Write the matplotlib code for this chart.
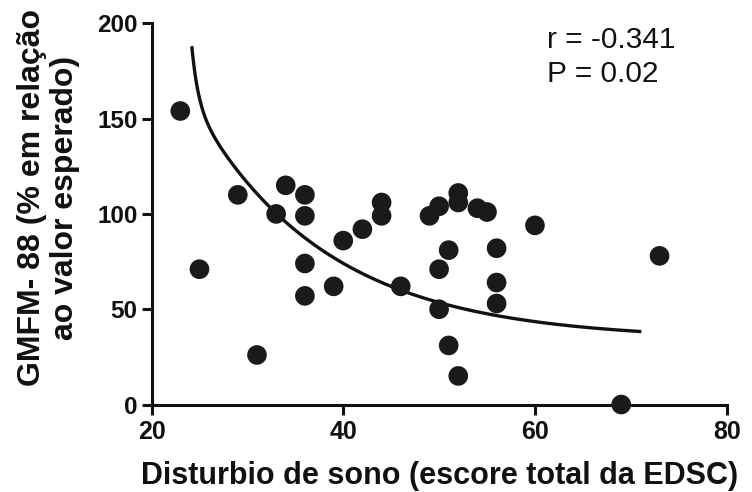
import numpy as np
import matplotlib
matplotlib.use("Agg")
import matplotlib.pyplot as plt

plt.rcParams['font.family'] = ['Liberation Sans', 'DejaVu Sans']

# Sleep disturbance score (EDSC total) vs GMFM-88 (% of expected value)
edsc = [23, 25, 29, 31, 33, 34, 36, 36, 36, 36, 39, 40, 42, 44, 44, 46,
        49, 50, 50, 50, 51, 51, 52, 52, 52, 54, 55, 56, 56, 56, 60, 69, 73]
gmfm = [154, 71, 110, 26, 100, 115, 110, 99, 74, 57, 62, 86, 92, 106, 99, 62,
        99, 104, 71, 50, 81, 31, 111, 106, 15, 103, 101, 82, 64, 53, 94, 0, 78]

# Fitted decay curve: plateau + slow and fast exponential components
fit_range = [24.2, 71.1]
plateau = 34.0
slow_span, slow_k = 125.0, 0.072
fast_span, fast_k = 29.0, 1.5

r_text = "r = -0.341"
p_text = "P = 0.02"

fig = plt.figure(figsize=(7.52, 4.92), dpi=100)
ax = fig.add_axes([0.2015, 0.1778, 0.7648, 0.7748])

xf = np.linspace(fit_range[0], fit_range[1], 400)
t = xf - fit_range[0]
yf = plateau + slow_span * np.exp(-slow_k * t) + fast_span * np.exp(-fast_k * t)
ax.plot(xf, yf, color='#111111', lw=2.4, solid_capstyle='butt', zorder=2)

ax.scatter(edsc, gmfm, s=200, color='#1a1a1a', edgecolors='none',
           zorder=3, clip_on=False)

ax.set_xlim(20, 80)
ax.set_ylim(0, 200)
ax.set_xticks([20, 40, 60, 80])
ax.set_yticks([0, 50, 100, 150, 200])

for side in ('top', 'right'):
    ax.spines[side].set_visible(False)
for side in ('left', 'bottom'):
    ax.spines[side].set_linewidth(2.2)
    ax.spines[side].set_color('#111111')

ax.tick_params(axis='both', direction='out', length=7, width=2.2,
               color='#111111', labelcolor='#111111')
ax.tick_params(axis='x', labelsize=18, pad=4)
ax.tick_params(axis='y', labelsize=17.5, pad=3)
for lab in ax.get_xticklabels() + ax.get_yticklabels():
    lab.set_fontweight('bold')

ax.set_xlabel("Disturbio de sono (escore total da EDSC)", fontsize=22,
              fontweight='bold', color='#111111')
ax.xaxis.set_label_coords(0.5016, -0.148)
ax.set_ylabel("GMFM- 88 (% em relação\nao valor esperado)", fontsize=23,
              fontweight='bold', color='#111111', linespacing=1.12)
ax.yaxis.set_label_coords(-0.124, 0.542)

ax.text(0.6876, 0.9344, r_text, transform=ax.transAxes, fontsize=21.5,
        color='#111111', va='baseline', ha='left')
ax.text(0.6876, 0.8468, p_text, transform=ax.transAxes, fontsize=21.5,
        color='#111111', va='baseline', ha='left')

fig.savefig("out.png", dpi=100)
